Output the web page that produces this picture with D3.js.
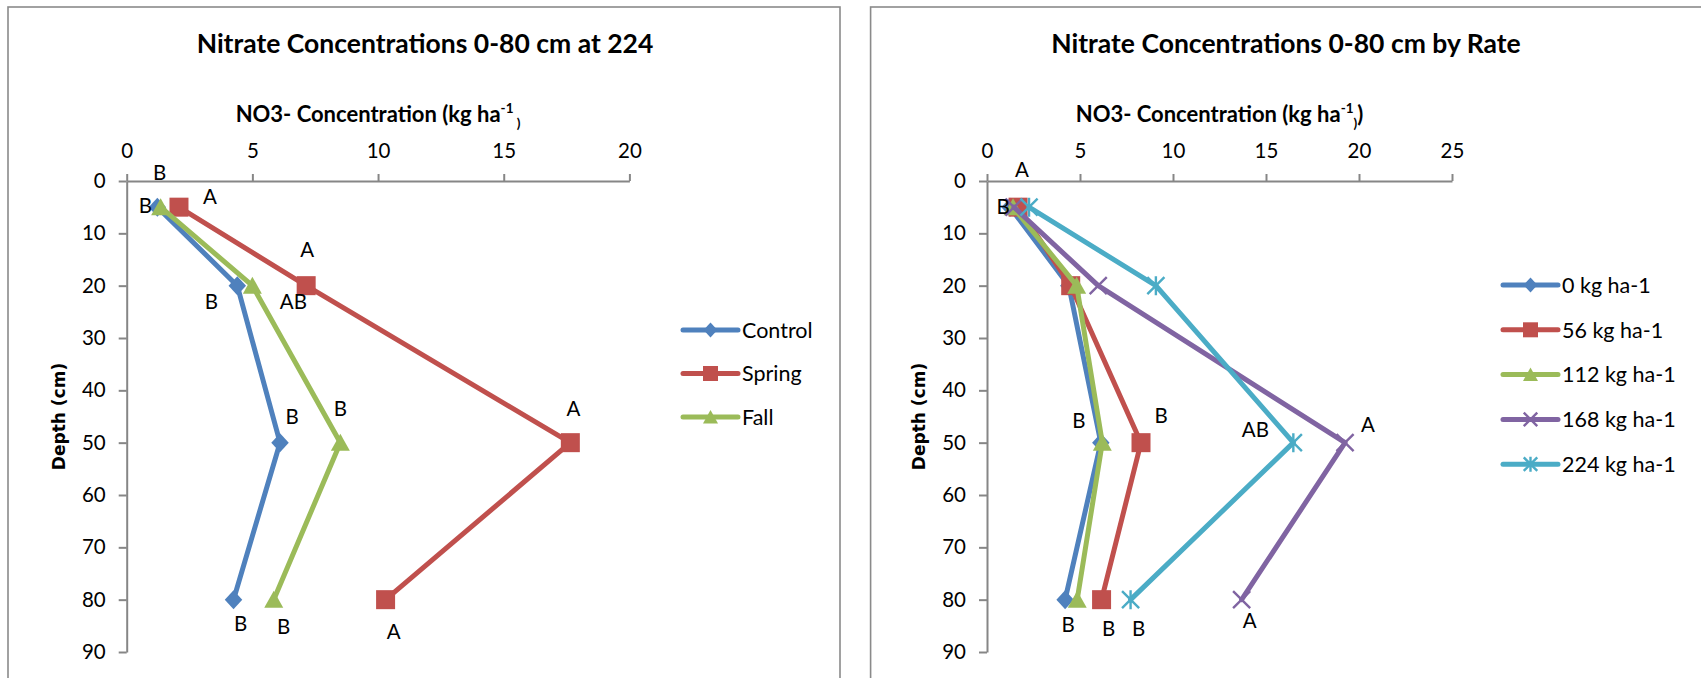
<!DOCTYPE html>
<html>
<head>
<meta charset="utf-8">
<script src="https://cdn.jsdelivr.net/npm/d3@7"></script>
<style>
  html, body { margin: 0; padding: 0; background: #fff; }
  svg { display: block; }
  text { font-family: Lato, "Open Sans", sans-serif; fill: #000; }
</style>
</head>
<body>
<svg id="chart" width="1701" height="678"></svg>
<script>
// ---- data ----
const depths = [5, 20, 50, 80];              // sampling depth, cm
const depthTicks = [0, 10, 20, 30, 40, 50, 60, 70, 80, 90];

// Panel 1: application timing at 224 kg ha-1
const timingNames = ["Control", "Spring", "Fall"];
const controlNO3 = [1.22, 4.4, 6.1, 4.25];
const springNO3 = [2.08, 7.14, 17.65, 10.3];
const fallNO3 = [1.35, 5.0, 8.5, 5.85];
const controlLetters = ["B", "B", "B", "B"];
const springLetters = ["A", "A", "A", "A"];
const fallLetters = ["B", "AB", "B", "B"];
const timingTicks = [0, 5, 10, 15, 20];

// Panel 2: N rate
const rateNames = ["0 kg ha-1", "56 kg ha-1", "112 kg ha-1", "168 kg ha-1", "224 kg ha-1"];
const rate0NO3 = [1.24, 4.4, 6.12, 4.2];
const rate56NO3 = [1.67, 4.5, 8.28, 6.16];
const rate112NO3 = [1.4, 4.82, 6.2, 4.85];
const rate168NO3 = [1.45, 5.98, 19.25, 13.69];
const rate224NO3 = [2.26, 9.08, 16.47, 7.72];
const rate0Letters = ["B", "", "B", "B"];
const rate56Letters = ["", "", "B", "B"];
const rate112Letters = ["", "", "", ""];
const rate168Letters = ["", "", "A", "A"];
const rate224Letters = ["A", "", "AB", "B"];
const rateTicks = [0, 5, 10, 15, 20, 25];

// ---- styling / layout ----
const colors = {
  blue: "#4F81BD", red: "#C0504D", green: "#9BBB59",
  purple: "#8064A2", cyan: "#4BACC6"
};
const axisGray = "#868686";

// offsets of the significance letters from their points (px)
const controlLabelPos = [[-12, -1], [-26, 16], [12, -26], [7, 24]];
const springLabelPos = [[31, -10], [1, -36], [3, -34], [8, 32]];
const fallLabelPos = [[-1, -34], [41, 16], [0, -34], [10, 27]];
const rate0LabelPos = [[-7, 0], null, [-22, -22], [3, 25]];
const rate56LabelPos = [null, null, [20, -27], [7, 29]];
const rate112LabelPos = [null, null, null, null];
const rate168LabelPos = [null, null, [23, -18], [8, 21]];
const rate224LabelPos = [[-7, -37], null, [-38, -13], [8, 29]];

const svg = d3.select("#chart");
svg.append("rect").attr("width", 1701).attr("height", 678).attr("fill", "#fff");

function drawMarker(g, type, color, s) {
  const h = s / 2;
  if (type === "diamond") {
    g.append("path").attr("d", `M0,${-h}L${h * 0.92},0L0,${h}L${-h * 0.92},0Z`).attr("fill", color);
  } else if (type === "square") {
    g.append("rect").attr("x", -h).attr("y", -h).attr("width", s).attr("height", s).attr("fill", color);
  } else if (type === "triangle") {
    g.append("path").attr("d", `M0,${-h * 0.95}L${h},${h * 0.85}L${-h},${h * 0.85}Z`).attr("fill", color);
  } else if (type === "x" || type === "star") {
    const k = h * 0.9;
    g.append("path")
      .attr("d", `M${-k},${-k}L${k},${k}M${-k},${k}L${k},${-k}` + (type === "star" ? `M0,${-h}L0,${h}` : ""))
      .attr("stroke", color).attr("stroke-width", 2.4).attr("fill", "none");
  }
}

function drawPanel(cfg) {
  const g = svg.append("g");

  // chart area border
  g.append("rect")
    .attr("x", cfg.frame[0]).attr("y", cfg.frame[1])
    .attr("width", cfg.frame[2]).attr("height", 720)
    .attr("fill", "none").attr("stroke", "#8a8a8a").attr("stroke-width", 1.6);

  // title
  g.append("text")
    .attr("x", cfg.titleX).attr("y", 53)
    .attr("text-anchor", "middle")
    .style("font-weight", 700).style("font-size", "26.5px")
    .text(cfg.title);

  const x = d3.scaleLinear().domain([0, cfg.xMax]).range([cfg.plot.x0, cfg.plot.x1]);
  const y = d3.scaleLinear().domain([0, 90]).range([cfg.plot.y0, cfg.plot.y1]);

  // x axis title with superscript
  const xt = g.append("text")
    .attr("x", (cfg.plot.x0 + cfg.plot.x1) / 2).attr("y", 122)
    .attr("text-anchor", "middle")
    .style("font-weight", 700).style("font-size", "22px");
  xt.append("tspan").text("NO3- Concentration (kg ha");
  xt.append("tspan").attr("dy", -9).style("font-size", "13.5px").text("-1");
  xt.append("tspan").attr("dy", 15).style("font-size", "13.5px").text(cfg.closeSmall);
  if (cfg.closeBig) xt.append("tspan").attr("dy", -6).text(cfg.closeBig);

  // y axis title
  g.append("text")
    .attr("transform", `translate(${cfg.plot.x0 - 68},${(cfg.plot.y0 + cfg.plot.y1) / 2}) rotate(-90)`)
    .attr("text-anchor", "middle").attr("dy", "0.35em")
    .style("font-family", "'DejaVu Sans', sans-serif")
    .style("font-weight", 700).style("font-size", "17px")
    .text("Depth (cm)");

  // axes
  const xAxis = g.append("g")
    .attr("transform", `translate(0,${cfg.plot.y0})`)
    .call(d3.axisTop(x).tickValues(cfg.xTicks).tickSize(7).tickSizeOuter(0).tickPadding(16));
  const yAxis = g.append("g")
    .attr("transform", `translate(${cfg.plot.x0},0)`)
    .call(d3.axisLeft(y).tickValues(depthTicks).tickSize(8).tickSizeOuter(0).tickPadding(13));
  [xAxis, yAxis].forEach(a => {
    a.select(".domain").attr("stroke", axisGray).attr("stroke-width", 2);
    a.selectAll(".tick line").attr("stroke", axisGray).attr("stroke-width", 2);
    a.selectAll(".tick text").style("font-family", "Lato, sans-serif").style("font-size", "20.5px").attr("fill", "#000");
  });

  const line = d3.line().x(d => x(d.v)).y(d => y(d.depth));

  cfg.series.forEach(s => {
    const pts = depths.map((dp, i) => ({ depth: dp, v: s.values[i] }));
    const sg = g.append("g");
    sg.append("path").datum(pts).attr("d", line)
      .attr("fill", "none").attr("stroke", s.color).attr("stroke-width", 5)
      .attr("stroke-linejoin", "round").attr("stroke-linecap", "round");
    pts.forEach(p => {
      const mg = sg.append("g").attr("transform", `translate(${x(p.v)},${y(p.depth)})`);
      drawMarker(mg, s.marker, s.color, 19);
    });
  });

  // significance letters
  cfg.series.forEach(s => {
    depths.forEach((dp, i) => {
      const t = s.letters[i], off = s.labelPos[i];
      if (!t || !off) return;
      g.append("text")
        .attr("x", x(s.values[i]) + off[0]).attr("y", y(dp) + off[1])
        .attr("dy", "0.35em").attr("text-anchor", "middle")
        .style("font-size", "20.5px")
        .text(t);
    });
  });

  // legend
  cfg.series.forEach((s, i) => {
    const ly = cfg.legend.y + i * cfg.legend.step;
    const lg = g.append("g").attr("transform", `translate(${cfg.legend.x},${ly})`);
    lg.append("line").attr("x1", 0).attr("x2", 55).attr("y1", 0).attr("y2", 0)
      .attr("stroke", s.color).attr("stroke-width", 5).attr("stroke-linecap", "round");
    const mg = lg.append("g").attr("transform", "translate(27.5,0)");
    drawMarker(mg, s.marker, s.color, 15);
    lg.append("text").attr("x", 59).attr("y", 0).attr("dy", "0.36em")
      .style("font-size", "21.5px").text(s.name);
  });
}

drawPanel({
  frame: [8, 7, 832],
  title: "Nitrate Concentrations 0-80 cm at 224",
  titleX: 425,
  plot: { x0: 126.7, x1: 629.4, y0: 181, y1: 652 },
  xMax: 20, xTicks: timingTicks,
  closeSmall: " )", closeBig: null,
  legend: { x: 683, y: 330, step: 43.5 },
  series: [
    { name: timingNames[0], values: controlNO3, letters: controlLetters, labelPos: controlLabelPos, color: colors.blue, marker: "diamond" },
    { name: timingNames[1], values: springNO3, letters: springLetters, labelPos: springLabelPos, color: colors.red, marker: "square" },
    { name: timingNames[2], values: fallNO3, letters: fallLetters, labelPos: fallLabelPos, color: colors.green, marker: "triangle" }
  ]
});

drawPanel({
  frame: [870.6, 7, 900],
  title: "Nitrate Concentrations 0-80 cm by Rate",
  titleX: 1286,
  plot: { x0: 987, x1: 1452, y0: 181, y1: 652 },
  xMax: 25, xTicks: rateTicks,
  closeSmall: ")", closeBig: ")",
  legend: { x: 1503, y: 285, step: 44.8 },
  series: [
    { name: rateNames[0], values: rate0NO3, letters: rate0Letters, labelPos: rate0LabelPos, color: colors.blue, marker: "diamond" },
    { name: rateNames[1], values: rate56NO3, letters: rate56Letters, labelPos: rate56LabelPos, color: colors.red, marker: "square" },
    { name: rateNames[2], values: rate112NO3, letters: rate112Letters, labelPos: rate112LabelPos, color: colors.green, marker: "triangle" },
    { name: rateNames[3], values: rate168NO3, letters: rate168Letters, labelPos: rate168LabelPos, color: colors.purple, marker: "x" },
    { name: rateNames[4], values: rate224NO3, letters: rate224Letters, labelPos: rate224LabelPos, color: colors.cyan, marker: "star" }
  ]
});
</script>
</body>
</html>
